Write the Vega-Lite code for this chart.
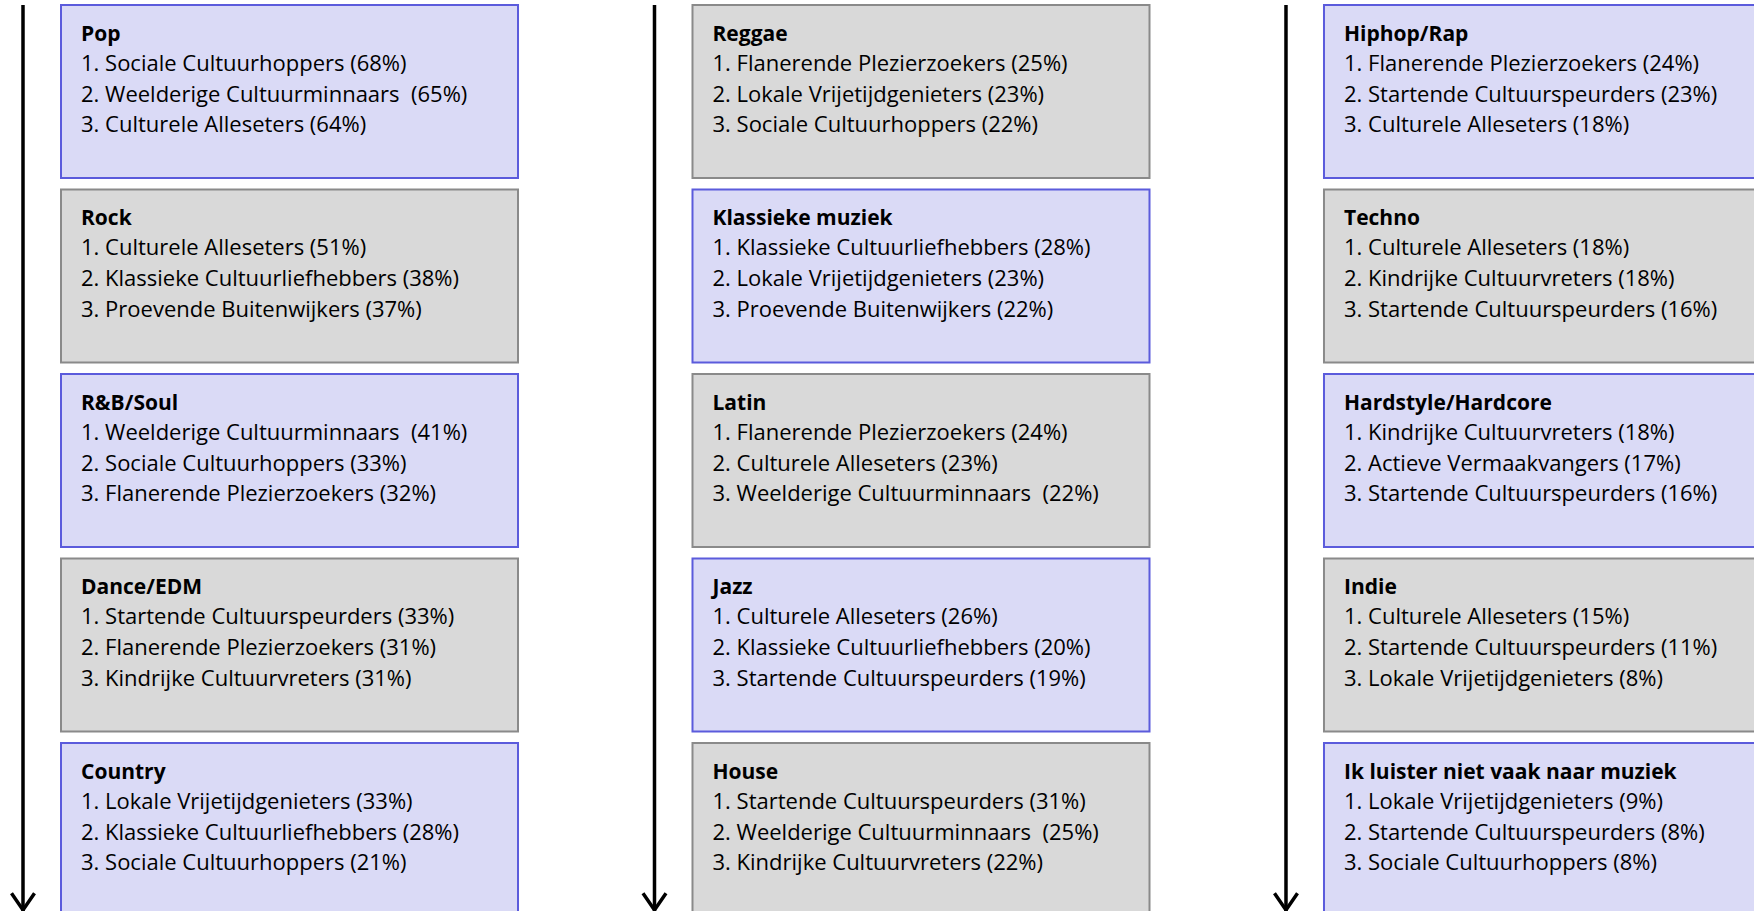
{
  "$schema": "https://vega.github.io/schema/vega-lite/v6.json",
  "width": 1754,
  "height": 911,
  "padding": 0,
  "autosize": {"type": "none"},
  "background": "white",
  "config": {"view": {"stroke": null}, "font": "Open Sans"},
  "datasets": {
    "genres": [
      {"col": "1", "row": "1", "type": "blauw", "genre": "Pop", "lines": "1. Sociale Cultuurhoppers (68%)\n2. Weelderige Cultuurminnaars\u00a0 (65%)\n3. Culturele Alleseters (64%)"},
      {"col": "1", "row": "2", "type": "grijs", "genre": "Rock", "lines": "1. Culturele Alleseters (51%)\n2. Klassieke Cultuurliefhebbers (38%)\n3. Proevende Buitenwijkers (37%)"},
      {"col": "1", "row": "3", "type": "blauw", "genre": "R&B/Soul", "lines": "1. Weelderige Cultuurminnaars\u00a0 (41%)\n2. Sociale Cultuurhoppers (33%)\n3. Flanerende Plezierzoekers (32%)"},
      {"col": "1", "row": "4", "type": "grijs", "genre": "Dance/EDM", "lines": "1. Startende Cultuurspeurders (33%)\n2. Flanerende Plezierzoekers (31%)\n3. Kindrijke Cultuurvreters (31%)"},
      {"col": "1", "row": "5", "type": "blauw", "genre": "Country", "lines": "1. Lokale Vrijetijdgenieters (33%)\n2. Klassieke Cultuurliefhebbers (28%)\n3. Sociale Cultuurhoppers (21%)"},
      {"col": "2", "row": "1", "type": "grijs", "genre": "Reggae", "lines": "1. Flanerende Plezierzoekers (25%)\n2. Lokale Vrijetijdgenieters (23%)\n3. Sociale Cultuurhoppers (22%)"},
      {"col": "2", "row": "2", "type": "blauw", "genre": "Klassieke muziek", "lines": "1. Klassieke Cultuurliefhebbers (28%)\n2. Lokale Vrijetijdgenieters (23%)\n3. Proevende Buitenwijkers (22%)"},
      {"col": "2", "row": "3", "type": "grijs", "genre": "Latin", "lines": "1. Flanerende Plezierzoekers (24%)\n2. Culturele Alleseters (23%)\n3. Weelderige Cultuurminnaars\u00a0 (22%)"},
      {"col": "2", "row": "4", "type": "blauw", "genre": "Jazz", "lines": "1. Culturele Alleseters (26%)\n2. Klassieke Cultuurliefhebbers (20%)\n3. Startende Cultuurspeurders (19%)"},
      {"col": "2", "row": "5", "type": "grijs", "genre": "House", "lines": "1. Startende Cultuurspeurders (31%)\n2. Weelderige Cultuurminnaars\u00a0 (25%)\n3. Kindrijke Cultuurvreters (22%)"},
      {"col": "3", "row": "1", "type": "blauw", "genre": "Hiphop/Rap", "lines": "1. Flanerende Plezierzoekers (24%)\n2. Startende Cultuurspeurders (23%)\n3. Culturele Alleseters (18%)"},
      {"col": "3", "row": "2", "type": "grijs", "genre": "Techno", "lines": "1. Culturele Alleseters (18%)\n2. Kindrijke Cultuurvreters (18%)\n3. Startende Cultuurspeurders (16%)"},
      {"col": "3", "row": "3", "type": "blauw", "genre": "Hardstyle/Hardcore", "lines": "1. Kindrijke Cultuurvreters (18%)\n2. Actieve Vermaakvangers (17%)\n3. Startende Cultuurspeurders (16%)"},
      {"col": "3", "row": "4", "type": "grijs", "genre": "Indie", "lines": "1. Culturele Alleseters (15%)\n2. Startende Cultuurspeurders (11%)\n3. Lokale Vrijetijdgenieters (8%)"},
      {"col": "3", "row": "5", "type": "blauw", "genre": "Ik luister niet vaak naar muziek", "lines": "1. Lokale Vrijetijdgenieters (9%)\n2. Startende Cultuurspeurders (8%)\n3. Sociale Cultuurhoppers (8%)"}
    ],
    "arrows": [{"col": "1"}, {"col": "2"}, {"col": "3"}]
  },
  "layer": [
    {
      "data": {"name": "genres"},
      "mark": {"type": "rect", "strokeWidth": 2},
      "encoding": {
        "x": {"field": "col", "type": "nominal", "axis": null, "scale": {"type": "band", "domain": ["1", "2", "3"], "range": [61, 1781], "paddingInner": 0.2763, "paddingOuter": 0}},
        "y": {"field": "row", "type": "nominal", "axis": null, "scale": {"type": "band", "domain": ["1", "2", "3", "4", "5"], "range": [5, 916], "paddingInner": 0.0623, "paddingOuter": 0}},
        "fill": {"field": "type", "type": "nominal", "legend": null, "scale": {"domain": ["blauw", "grijs"], "range": ["#dadaf6", "#d9d9d9"]}},
        "stroke": {"field": "type", "type": "nominal", "legend": null, "scale": {"domain": ["blauw", "grijs"], "range": ["#5b5bdc", "#8a8a8a"]}}
      }
    },
    {
      "data": {"name": "genres"},
      "mark": {"type": "text", "align": "left", "baseline": "alphabetic", "fontWeight": "bold", "fontSize": 21, "xOffset": 20, "yOffset": 36, "color": "black"},
      "encoding": {
        "x": {"field": "col", "type": "nominal", "bandPosition": 0},
        "y": {"field": "row", "type": "nominal", "bandPosition": 0},
        "text": {"field": "genre"}
      }
    },
    {
      "data": {"name": "genres"},
      "mark": {"type": "text", "align": "left", "baseline": "alphabetic", "fontSize": 22, "lineBreak": "\n", "lineHeight": 30.7, "xOffset": 20, "yOffset": 66, "color": "black"},
      "encoding": {
        "x": {"field": "col", "type": "nominal", "bandPosition": 0},
        "y": {"field": "row", "type": "nominal", "bandPosition": 0},
        "text": {"field": "lines"}
      }
    },
    {
      "data": {"name": "arrows"},
      "mark": {"type": "rule", "strokeWidth": 3.5, "color": "black", "xOffset": -38, "yOffset": 5},
      "encoding": {
        "x": {"field": "col", "type": "nominal", "bandPosition": 0}
      }
    },
    {
      "data": {"name": "arrows"},
      "mark": {"type": "point", "shape": "M -1 -1.45 L 0 0 L 1 -1.45", "filled": false, "stroke": "black", "strokeWidth": 3.5, "size": 530, "opacity": 1, "xOffset": -38, "yOffset": -1},
      "encoding": {
        "x": {"field": "col", "type": "nominal", "bandPosition": 0},
        "y": {"value": "height"}
      }
    }
  ]
}
